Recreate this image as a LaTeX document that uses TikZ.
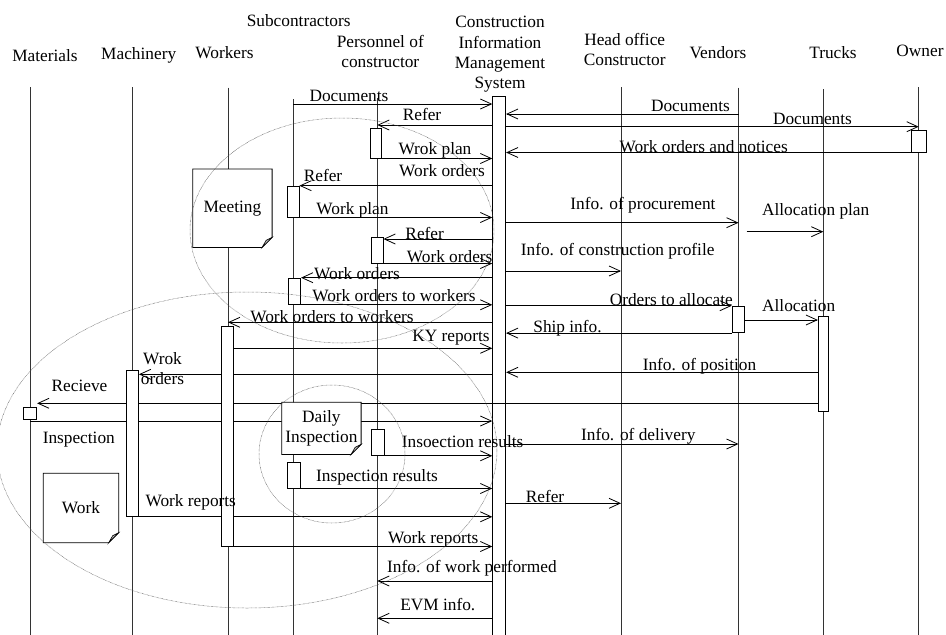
\documentclass[tikz,border=0pt]{standalone}
\usepackage{fontspec}
\setmainfont{Liberation Serif}
\usetikzlibrary{arrows.meta, positioning, calc}
\pgfdeclarelayer{back}
\pgfdeclarelayer{mid}
\pgfsetlayers{back,mid,main}
\tikzset{
	head/.style={inner sep=0, align=center, anchor=north},
	lab/.style={anchor=base, inner sep=0},
	life/.style={draw=black!80, line width=0.7pt},
	act/.style={draw, fill=white, line width=0.8pt, inner sep=0, minimum width=12pt, anchor=north},
	msg/.style={draw, line width=0.8pt, -{Straight Barb[length=11pt,width=10pt]}},
	notepad/.style={inner sep=0, anchor=north west},
	dotring/.style={draw=black!70, line width=0.5pt, dash pattern=on 0.5pt off 0.8pt}
}
\begin{document}
\begin{tikzpicture}[x=1pt, y=-1pt, font=\fontsize{17.3}{20.3}\selectfont]
			\useasboundingbox (0,0) rectangle (946,635);
			\node[lab] (mat) at (45,61) {Materials};
			\node[lab] (mch) at (138.7,59.5) {Machinery};
			\node[lab] (wrk) at (224.5,58.5) {Workers};
			\node[lab] (sub) at (298.7,26.5) {Subcontractors};
			\node[head] (per) at (380.3,34.9) {Personnel of\\constructor};
			\node[head] (cims) at (500,16.2) {Construction\\Information\\Management\\System};
			\node[head] (hoff) at (624.7,33.2) {Head office\\Constructor};
			\node[lab] (ven) at (718,58.5) {Vendors};
			\node[lab] (trk) at (833,58.5) {Trucks};
			\node[lab] (own) at (920,56.5) {Owner};
			\coordinate (matL) at (30,87);
			\coordinate (mchL) at (132.3,87);
			\coordinate (wrkL) at (228,87.7);
			\coordinate (subL) at (293.3,99);
			\coordinate (perL) at (377.3,98);
			\coordinate (hoffL) at (621,87);
			\coordinate (venL) at (738.5,87.7);
			\coordinate (trkL) at (823.3,89);
			\coordinate (ownL) at (918.7,87);
			\coordinate (bot) at (0,640);
			\coordinate (ap) at (746.7,231.7);
			\node[act, fill=none, minimum width=13pt, minimum height=545pt] (cimsb) at (499.2,95.7) {};
			\node[act, minimum width=15pt, minimum height=21.7pt] (ownb) at (918.5,130) {};
			\node[act, minimum width=11pt, minimum height=29.4pt] (per1) at (376.2,128.3) {};
			\node[act, minimum height=31pt] (sub1) at (293,185.7) {};
			\node[act, minimum height=26pt] (per2) at (377,236.7) {};
			\node[act, minimum height=26.3pt] (sub2) at (294.6,277.7) {};
			\node[act, minimum height=219.7pt] (wrkb) at (227,326) {};
			\node[act, minimum height=26.6pt] (venb) at (738.2,305.7) {};
			\node[act, minimum width=10.4pt, minimum height=95pt] (trkb) at (823.5,316) {};
			\node[act, minimum height=146pt] (mchb) at (132.5,370) {};
			\node[act, minimum width=13.4pt, minimum height=12.6pt] (matb) at (30,406.7) {};
			\node[act, minimum width=13.3pt, minimum height=26pt] (per3) at (377.6,429) {};
			\node[act, minimum width=13.4pt, minimum height=26pt] (sub3) at (294,461.7) {};
			\node[notepad, minimum width=79pt, minimum height=78pt] (meet) at (192.7,169) {Meeting};
			\node[notepad, minimum width=79pt, minimum height=51.7pt, align=center] (daily) at (281.7,402.3) {Daily\\Inspection};
			\node[notepad, minimum width=75pt, minimum height=69pt] (work) at (43.3,473.3) {Work};
			\begin{pgfonlayer}{mid}
				\foreach \n in {meet,daily,work} {
					\draw[line width=0.8pt, fill=white] (\n.north west) -- (\n.north east) -- ([yshift=10pt]\n.south east) -- ([xshift=-10pt]\n.south east) -- (\n.south west) -- cycle;
					\draw[line width=0.6pt, fill=black!25] ([yshift=10pt]\n.south east) -- ([xshift=-6pt, yshift=7pt]\n.south east) -- ([xshift=-10pt]\n.south east) -- cycle;
				}
			\end{pgfonlayer}
			\begin{pgfonlayer}{back}
				\foreach \l in {matL,mchL,wrkL,subL,perL,hoffL,venL,trkL,ownL}
					\draw[life] (\l) -- (\l |- bot);
				\draw[msg] (subL |- 0,104) -- (cimsb.west |- 0,104);
				\draw[msg] (cimsb.west |- 0,125) -- (perL |- 0,125);
				\draw[msg] (venL |- 0,114) -- (cimsb.east |- 0,114);
				\draw[msg] (cimsb.east |- 0,126.7) -- (ownL |- 0,126.7);
				\draw[msg] (ownb.south west) -- (cimsb.east |- ownb.south);
				\draw[msg] (per1.south east) -- (cimsb.west |- per1.south);
				\draw[msg] (cimsb.west |- sub1.north) -- (sub1.north east);
				\draw[msg] (sub1.south east) -- (cimsb.west |- sub1.south);
				\draw[msg] (cimsb.west |- 0,239) -- (per2.east |- 0,239);
				\draw[msg] (per2.south east) -- (cimsb.west |- per2.south);
				\draw[msg] (cimsb.west |- sub2.north) -- (sub2.north east);
				\draw[msg] (sub2.south east) -- (cimsb.west |- sub2.south);
				\draw[msg] (cimsb.west |- 0,322.3) -- (wrkL |- 0,322.3);
				\draw[msg] (wrkb.east |- 0,348.3) -- (cimsb.west |- 0,348.3);
				\draw[msg] (cimsb.west |- 0,374.3) -- (mchb.east |- 0,374.3);
				\draw[msg] (trkb.west |- 0,403.3) -- (matb.east |- 0,403.3);
				\draw[msg] (matL |- 0,421) -- (cimsb.west |- 0,421);
				\draw[msg] (per3.south east) -- (cimsb.west |- per3.south);
				\draw[msg] (sub3.south east) -- (cimsb.west |- sub3.south);
				\draw[msg] (mchb.south east) -- (cimsb.west |- mchb.south);
				\draw[msg] (wrkb.south east) -- (cimsb.west |- wrkb.south);
				\draw[msg] (cimsb.west |- 0,581) -- (perL |- 0,581);
				\draw[msg] (cimsb.west |- 0,618.3) -- (perL |- 0,618.3);
				\draw[msg] (cimsb.east |- 0,503.3) -- (hoffL |- 0,503.3);
				\draw[msg] (cimsb.east |- 0,222.7) -- (venL |- 0,222.7);
				\draw[msg] (ap) -- (trkL |- ap);
				\draw[msg] (cimsb.east |- 0,271) -- (hoffL |- 0,271);
				\draw[msg] (cimsb.east |- venb.north) -- (venb.north west);
				\draw[msg] (venb.east |- 0,320) -- (trkb.west |- 0,320);
				\draw[msg] (venb.south west) -- (cimsb.east |- venb.south);
				\draw[msg] (trkb.west |- 0,372.3) -- (cimsb.east |- 0,372.3);
				\draw[msg] (cimsb.east |- 0,444) -- (venL |- 0,444);
			\end{pgfonlayer}
			\node[lab] (t1) at (349,101.5) {Documents};
			\node[lab] (t2) at (422,120) {Refer};
			\node[lab] (t3) at (690.5,111) {Documents};
			\node[lab] (t4) at (812.5,124) {Documents};
			\node[lab] (t5) at (703.7,152) {Work orders and notices};
			\node[lab] (t6) at (435,154.5) {Wrok plan};
			\node[lab] (t7) at (442,176) {Work orders};
			\node[lab] (t8) at (323,181.5) {Refer};
			\node[lab] (t9) at (352.5,214) {Work plan};
			\node[lab] (t10) at (424.7,239) {Refer};
			\node[lab] (t11) at (449.7,262.3) {Work orders};
			\node[lab] (t12) at (357,279.3) {Work orders};
			\node[lab] (t13) at (394,301) {Work orders to workers};
			\node[lab] (t14) at (332,322.3) {Work orders to workers};
			\node[lab] (t15) at (451,341.7) {KY reports};
			\node[head] (t16) at (162.5,352.2) {Wrok\\orders};
			\node[lab] (t17) at (79.5,391.7) {Recieve};
			\node[lab] (t18) at (78.8,443.3) {Inspection};
			\node[lab, anchor=base west] (t19) at (401.7,447.7) {Insoection results};
			\node[lab] (t20) at (377,481.7) {Inspection results};
			\node[lab] (t21) at (190.8,506.7) {Work reports};
			\node[lab] (t22) at (433.3,543.3) {Work reports};
			\node[lab] (t23) at (472,572.7) {Info. of work performed};
			\node[lab] (t24) at (437.8,610) {EVM info.};
			\node[lab] (t25) at (545,502.3) {Refer};
			\node[lab] (t26) at (643,209.3) {Info. of procurement};
			\node[lab] (t27) at (815.7,215.7) {Allocation plan};
			\node[lab] (t28) at (617.7,255) {Info. of construction profile};
			\node[lab] (t29) at (671.3,305) {Orders to allocate};
			\node[lab] (t30) at (798.7,311) {Allocation};
			\node[lab] (t31) at (567.5,332.3) {Ship info.};
			\node[lab] (t32) at (699.5,370) {Info. of position};
			\node[lab] (t33) at (638.3,440) {Info. of delivery};
			\draw[dotring] (342,230.5) ellipse [x radius=152, y radius=112.5];
			\draw[dotring] (247,450) ellipse [x radius=250, y radius=158];
			\draw[dotring] (332,454) ellipse [x radius=73, y radius=69];
		\end{tikzpicture}
\end{document}
